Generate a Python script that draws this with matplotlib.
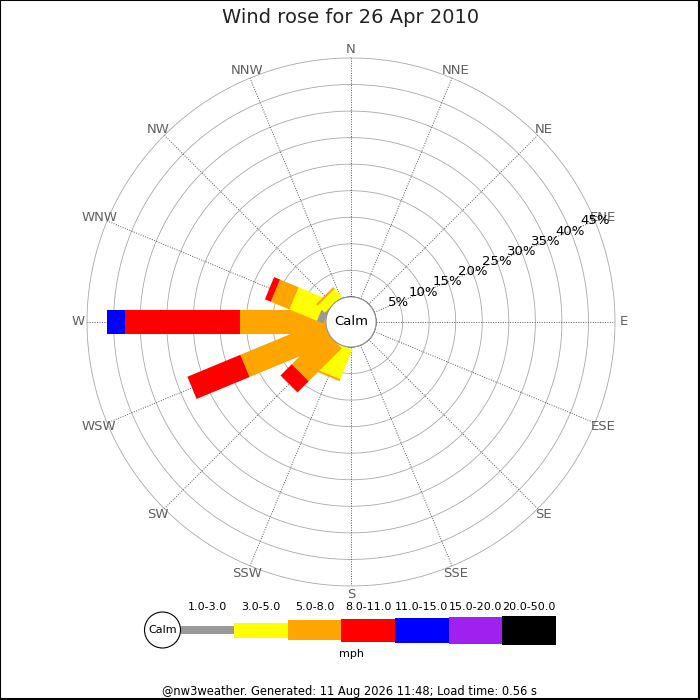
import numpy as np
import matplotlib
matplotlib.use('Agg')
import matplotlib.pyplot as plt
from matplotlib.patches import Circle, Rectangle

# 16 compass directions, clockwise from north
directions = ['N', 'NNE', 'NE', 'ENE', 'E', 'ESE', 'SE', 'SSE',
              'S', 'SSW', 'SW', 'WSW', 'W', 'WNW', 'NW', 'NNW']
speed_bins = ['1.0-3.0', '3.0-5.0', '5.0-8.0', '8.0-11.0',
              '11.0-15.0', '15.0-20.0', '20.0-50.0']
bin_colors = ['#999999', '#ffff00', '#ffa500', '#ff0000',
              '#0000ff', '#a020f0', '#000000']

# frequency (%) per direction for each speed bin
freq_1_3 = [0, 0, 0, 0, 0, 0, 0, 0, 0, 0, 0, 0, 0, 1.3, 0, 0]
freq_3_5 = [0, 0, 0, 0, 0, 0, 0, 0, 0, 6.0, 0, 0, 0, 5.6, 1.9, 0]
freq_5_8 = [0, 0, 0, 0, 0, 0, 0, 0, 0, 0.4, 8.8, 16.9, 16.2, 3.8, 0.4, 0]
freq_8_11 = [0, 0, 0, 0, 0, 0, 0, 0, 0, 0, 3.0, 10.8, 21.7, 1.2, 0, 0]
freq_11_15 = [0, 0, 0, 0, 0, 0, 0, 0, 0, 0, 0, 0, 3.4, 0, 0, 0]
freq_15_20 = [0] * 16
freq_20_50 = [0] * 16
freqs = [freq_1_3, freq_3_5, freq_5_8, freq_8_11, freq_11_15, freq_15_20, freq_20_50]

ring_pcts = [5, 10, 15, 20, 25, 30, 35, 40, 45]

fig = plt.figure(figsize=(7, 7), dpi=100)

ax = fig.add_axes([0.1243, 0.1629, 0.7543, 0.7543], projection='polar')
ax.set_theta_zero_location('N')
ax.set_theta_direction(-1)
ax.set_ylim(0, 45)
ax.set_rorigin(-25 / 26.5 * 5)
ax.set_xticks([])
ax.set_yticks([])
ax.grid(False)
for sp in ax.spines.values():
    sp.set_visible(False)

theta_all = np.linspace(0, 2 * np.pi, 361)
# rings
for r in ring_pcts:
    ax.plot(theta_all, np.full_like(theta_all, r), color='#a8a8a8', lw=0.6,
            zorder=1, clip_on=False)

# spokes + direction labels
angles = np.deg2rad(np.arange(16) * 22.5)
for th, name in zip(angles, directions):
    ax.plot([th, th], [0, 45], color='#555555', lw=0.7, ls=(0, (1, 1.5)), zorder=2)
    ax.text(th, 46.6, name, ha='center', va='center', fontsize=9.5, color='#606060')

# percent labels along ENE
for r in ring_pcts:
    ax.text(np.deg2rad(67.5), r, f'{r}%', ha='center', va='center', fontsize=9.5,
            color='black', zorder=6)

# stacked bars (constant-width rectangles)
for i, th in enumerate(angles):
    start = 0
    for b, col in enumerate(bin_colors):
        v = freqs[b][i]
        if v > 0:
            ax.plot([th, th], [start, start + v], color=col, lw=17.3,
                    solid_capstyle='butt', zorder=3)
            start += v

# calm circle
ax.fill(theta_all, np.zeros_like(theta_all), facecolor='white', edgecolor='#999999',
        lw=0.8, zorder=5, clip_on=False)
ax.text(0.5, 0.5, 'Calm', transform=ax.transAxes, ha='center', va='center',
        fontsize=9.5, zorder=7)

# legend and decorations in pixel space
lax = fig.add_axes([0, 0, 1, 1])
lax.set_xlim(0, 700)
lax.set_ylim(700, 0)
lax.set_aspect('equal')
lax.axis('off')
lax.patch.set_alpha(0)

seg_w = 53.6
seg_left = 180.7
seg_heights = [8, 15, 20, 23, 25, 27, 29]
centers = [seg_left + seg_w * (k + 0.5) for k in range(len(speed_bins))]
lax.bar(centers, seg_heights, width=seg_w, bottom=[630 - h / 2 for h in seg_heights],
        color=bin_colors, linewidth=0)
for cx, lab in zip(centers, speed_bins):
    lax.text(cx, 607, lab, ha='center', va='center', fontsize=8)
lax.add_patch(Circle((162.5, 630), 18, facecolor='white', edgecolor='black', lw=0.8))
lax.text(162.5, 630, 'Calm', ha='center', va='center', fontsize=8)
lax.text(351, 654, 'mph', ha='center', va='center', fontsize=8)

lax.text(351, 17.5, 'Wind rose for 26 Apr 2010', ha='center', va='center', fontsize=14,
         color='#222222')
lax.text(349, 691, '@nw3weather. Generated: 11 Aug 2026 11:48; Load time: 0.56 s',
         ha='center', va='center', fontsize=8.3)

lax.add_patch(Rectangle((0, 0), 699, 699, fill=False, edgecolor='black', lw=1.5,
                        clip_on=False))

fig.savefig('out.png', dpi=100)
